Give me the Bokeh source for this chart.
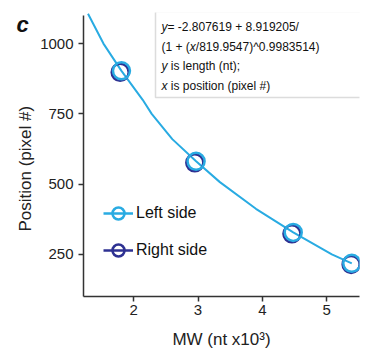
from bokeh.plotting import figure
from bokeh.models import (Range1d, FixedTicker, Legend, LegendItem,
                          Label, BoxAnnotation)
from bokeh.embed import file_html
from bokeh.resources import INLINE

# ---- data ----
left_mw = [1.81, 2.97, 4.48, 5.39]
left_pos = [903, 581, 328, 218]
right_mw = [1.79, 2.95, 4.46, 5.38]
right_pos = [898, 576, 323, 214]

fit_mw = [1.29, 1.53, 1.81, 2.14, 2.28, 2.60, 2.97, 3.34, 3.90, 4.48, 5.08, 5.39]
fit_pos = [1106, 1000, 903, 800, 750, 660, 581, 507, 412, 328, 250, 218]

x_ticks = [2, 3, 4, 5]
y_ticks = [250, 500, 750, 1000]

eq_lines = [
    [("y", "italic", 6.0), ("= -2.807619 + 8.919205/", "normal", 0)],
    [("(1 + (", "normal", 28.3), ("x", "italic", 6.0), ("/819.9547)^0.9983514)", "normal", 0)],
    [("y", "italic", 9.3), ("is length (nt);", "normal", 0)],
    [("x", "italic", 9.3), ("is position (pixel #)", "normal", 0)],
]

LIGHT = "#29abe2"
NAVY = "#2e3192"
AX = "#333333"
FONT = "Liberation Sans"
NAN = float("nan")

p = figure(width=368, height=351, output_backend="svg", toolbar_location=None,
           x_range=Range1d(1.22, 5.51), y_range=Range1d(100, 1110.6),
           min_border_left=83, min_border_right=9, min_border_top=12, min_border_bottom=54)
p.outline_line_color = None
p.xgrid.visible = False
p.ygrid.visible = False

# panel letter as the title
p.title.text = "c"
p.title.text_font = FONT
p.title.text_font_style = "bold italic"
p.title.text_font_size = "22px"
p.title.text_line_height = 1.6
p.title.text_color = "#111111"
p.title.align = "left"
p.title.offset = -67
p.title.standoff = -49

p.line(fit_mw, fit_pos, line_color=LIGHT, line_width=2)
r_right = p.scatter(right_mw, right_pos, marker="circle", size=17, fill_color=None,
                    line_color=NAVY, line_width=2.5)
r_left = p.scatter(left_mw, left_pos, marker="circle", size=17, fill_color=None,
                   line_color=LIGHT, line_width=2.5)
leg_line_left = p.line([NAN], [NAN], line_color=LIGHT, line_width=2.5)
leg_line_right = p.line([NAN], [NAN], line_color=NAVY, line_width=2.5)

legend = Legend(items=[
    LegendItem(label="Left side", renderers=[leg_line_left, r_left]),
    LegendItem(label="Right side", renderers=[leg_line_right, r_right]),
], location=(20, 30))
legend.glyph_width = 30
legend.glyph_height = 32
legend.spacing = 5
legend.padding = 0
legend.margin = 0
legend.label_standoff = 3
legend.label_text_font = FONT
legend.label_text_font_size = "16px"
legend.label_text_color = "#111111"
legend.border_line_alpha = 0
legend.background_fill_alpha = 0
p.add_layout(legend)

for ax in (p.xaxis, p.yaxis):
    ax.axis_line_color = AX
    ax.axis_line_width = 1.5
    ax.major_tick_line_color = AX
    ax.major_tick_line_width = 1.5
    ax.major_tick_out = 5
    ax.major_tick_in = 0
    ax.minor_tick_line_color = None
    ax.major_label_text_font = FONT
    ax.major_label_text_font_size = "15px"
    ax.major_label_text_color = "#222222"
    ax.axis_label_text_font = FONT
    ax.axis_label_text_font_style = "normal"
    ax.axis_label_text_color = "#222222"
    ax.axis_label_text_font_size = "17px"

p.xaxis.ticker = FixedTicker(ticks=x_ticks)
p.yaxis.ticker = FixedTicker(ticks=y_ticks)
p.yaxis.bounds = (100, 1100)
p.xaxis.axis_label = "MW (nt x10³)"
p.yaxis.axis_label = "Position (pixel #)" + "\u00a0" * 6
p.xaxis.major_label_standoff = 3
p.yaxis.major_label_standoff = 5
p.xaxis.axis_label_standoff = 12
p.yaxis.axis_label_standoff = 2

# equation box
p.add_layout(BoxAnnotation(left=72, right=283, top=285, bottom=199,
                           left_units="screen", right_units="screen",
                           top_units="screen", bottom_units="screen",
                           fill_color="white", fill_alpha=1,
                           line_color="#8a8a8a", line_width=1.5))

baselines = [270, 250, 230.5, 211]
for line, by in zip(eq_lines, baselines):
    sx = 78.0
    for txt, style, adv in line:
        p.add_layout(Label(x=sx, y=by, x_units="screen", y_units="screen", text=txt,
                           text_font=FONT, text_font_style=style, text_font_size="12px",
                           text_color="#111111", text_baseline="alphabetic"))
        sx += adv

open("out.html", "w").write(file_html(p, INLINE))
